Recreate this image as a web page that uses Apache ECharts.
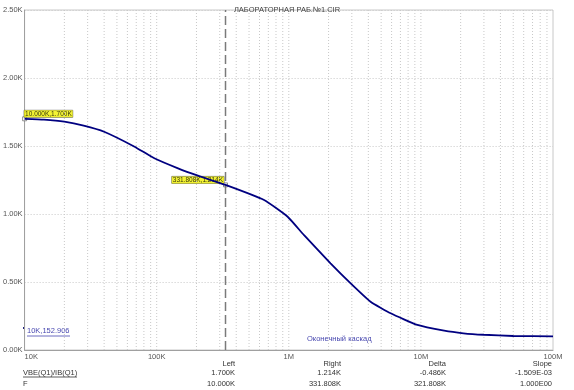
<!DOCTYPE html>
<html><head><meta charset="utf-8">
<script src="https://cdn.jsdelivr.net/npm/echarts@6/dist/echarts.min.js"></script>
<style>html,body{margin:0;padding:0;background:#fff}#c{width:574px;height:390px}</style>
</head><body><div id="c"></div>
<script>
var titleText = 'ЛАБОРАТОРНАЯ РАБ.№1.CIR';
var freq = [1e4, 1.4e4, 2e4, 2.8e4, 4e4, 6.8e4, 9.6e4, 1.45e5, 2.05e5, 3.318e5, 6.5e5, 9.8e5, 1.3e6, 2.07e6, 2.94e6, 4.16e6, 5.9e6, 9.4e6, 1.5e7, 2.1e7, 3e7, 5e7, 1e8];
var vals = [1700, 1694, 1679, 1650, 1605, 1495, 1410, 1336, 1282, 1214, 1103, 980, 846, 637, 490, 355, 270, 184, 142, 123, 112, 103, 100];
var cursorLeft = [10000, 1700];
var cursorRight = [331808, 1214];
var cursorLabels = ['10.000K,1.700K', '331.808K,1.214K'];
var xTickLabels = {1e4:'10K', 1e5:'100K', 1e6:'1M', 1e7:'10M', 1e8:'100M'};
var traceName = 'VBE(Q1)/IB(Q1)';
var seriesNote = 'Оконечный каскад';
var pointNote = '10K,152.906';
var tableHeads = ['Left', 'Right', 'Delta', 'Slope'];
var tableRow1 = ['1.700K', '1.214K', '-0.486K', '-1.509E-03'];
var tableRow2 = ['10.000K', '331.808K', '321.808K', '1.000E00'];

var FONT = 'Liberation Sans';
var YMAX = 2500;
var chart = echarts.init(document.getElementById('c'));
var gridData = [];
for (var d = 1e4; d < 1e8; d *= 10) for (var m = 1; m <= 9; m++) {
  if (d === 1e4 && m === 1) continue;
  gridData.push([d*m, 0], [d*m, YMAX], [d*m, '-']);
}

var colX = [235, 341, 446, 552];
var graphics = [];
for (var i = 0; i < 4; i++) {
  graphics.push({type:'text', x: colX[i], y: 364, style:{text: tableHeads[i], font: '7.5px ' + FONT, fill:'#333', align:'right', verticalAlign:'middle'}});
  graphics.push({type:'text', x: colX[i], y: 373, style:{text: tableRow1[i], font: '7.5px ' + FONT, fill:'#333', align:'right', verticalAlign:'middle'}});
  graphics.push({type:'text', x: colX[i], y: 384, style:{text: tableRow2[i], font: '7.5px ' + FONT, fill:'#333', align:'right', verticalAlign:'middle'}});
}
graphics.push({type:'text', x: 23, y: 373, style:{text: traceName, font: '7.5px ' + FONT, fill:'#333', align:'left', verticalAlign:'middle'}});
graphics.push({type:'line', shape:{x1:23, y1:377, x2:77, y2:377}, style:{stroke:'#333', lineWidth:0.8}});
graphics.push({type:'text', x: 23, y: 384, style:{text: 'F', font: '7.5px ' + FONT, fill:'#333', align:'left', verticalAlign:'middle'}});
graphics.push({type:'text', x: 307, y: 339, style:{text: seriesNote, font: '7.5px ' + FONT, fill:'#4848b0', align:'left', verticalAlign:'middle'}});
graphics.push({type:'text', x: 27, y: 331, style:{text: pointNote, font: '7.5px ' + FONT, fill:'#4848b0', align:'left', verticalAlign:'middle'}});
graphics.push({type:'line', shape:{x1:27, y1:336, x2:70, y2:336}, style:{stroke:'#4848b0', lineWidth:0.8}});
graphics.push({type:'rect', shape:{x:23, y:327, width:2, height:2}, style:{fill:'#202080'}});

chart.setOption({
  animation: false,
  backgroundColor: '#fff',
  title: {text: titleText, left: 'center', top: 1, textStyle:{fontSize:7.5, fontWeight:'normal', color:'#444', fontFamily: FONT}},
  grid: {left: 23, right: 21, top: 10, bottom: 40, show: true, borderColor: '#c8c8c8', borderWidth: 1},
  xAxis: {
    type: 'log', logBase: 10, min: 1e4, max: 1e8, splitNumber: 4,
    axisLine: {show: true, lineStyle:{color:'#a0a0a0'}},
    axisTick: {show: false},
    axisLabel: {fontSize: 7.5, color: '#555', fontFamily: FONT, margin: 3, alignMinLabel: 'left',
      formatter: function(v){ return xTickLabels[v] || xTickLabels[Math.round(v)] || ''; }},
    splitLine: {show: false},
    minorTick: {show:false}, minorSplitLine:{show:false}
  },
  yAxis: {
    type: 'value', min: 0, max: YMAX, interval: 500,
    axisLine: {show: true, lineStyle:{color:'#a0a0a0'}},
    axisTick: {show: false},
    axisLabel: {fontSize: 7.5, color: '#555', fontFamily: FONT, margin: 2,
      formatter: function(v){ return (v/1000).toFixed(2) + 'K'; }},
    splitLine: {show: true, lineStyle:{color:'#c8c8c8', type:[1,2], width:1}}
  },
  series: [
    {type:'line', data: gridData, silent: true, showSymbol: false, connectNulls: false,
     lineStyle:{color:'#c8c8c8', type:[1,2], width:1}},
    {type:'line', data: [[cursorRight[0], 0], [cursorRight[0], YMAX]], silent: true, showSymbol: false,
     lineStyle:{color:'#7a7a7a', type:[9,4], width:1.5}},
    {type:'line', smooth: 0.15, showSymbol: false, lineStyle:{color:'#000080', width:1.8}, itemStyle:{color:'#000080'},
     data: freq.map(function(f,i){ return [f, vals[i]]; })},
    {type:'scatter', symbol:'rect', symbolSize:4, itemStyle:{color:'#fff', borderColor:'#777', borderWidth:1},
     data: [
       {value: cursorLeft, label:{show:true, formatter: cursorLabels[0], position:[2,1], align:'left', verticalAlign:'bottom'}},
       {value: cursorRight, label:{show:true, formatter: cursorLabels[1], position:[1,1], align:'right', verticalAlign:'bottom'}}
     ],
     label: {fontSize: 6.5, fontFamily: FONT, color:'#000', backgroundColor:'#f0f000', borderColor:'#555', borderWidth:0.5, padding:[0,1,0,1], lineHeight:7}
    }
  ],
  graphic: graphics
});
</script></body></html>
